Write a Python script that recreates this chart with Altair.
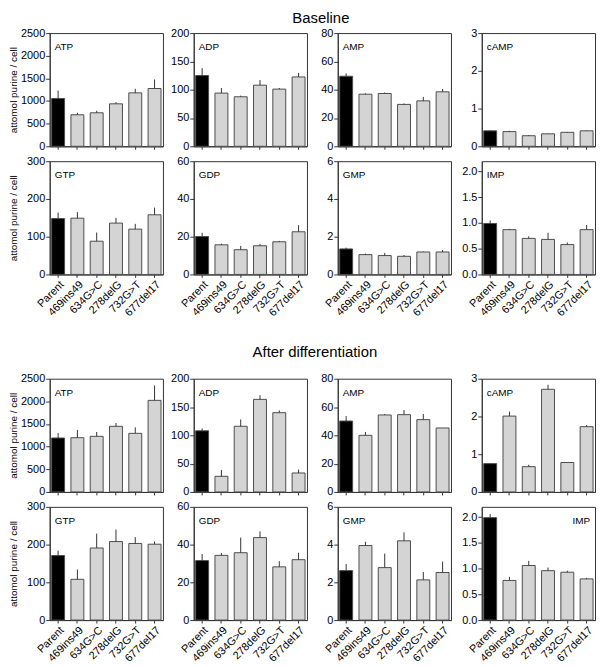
import altair as alt
import pandas as pd

FONT = "Liberation Sans"

cells = ["Parent", "469ins49", "634G>C", "278delG", "732G>T", "677del17"]
groups = ["Parent", "Mutant", "Mutant", "Mutant", "Mutant", "Mutant"]

# Baseline (mean, error)
b_ATP = [1056, 696, 740, 938, 1180, 1276]
b_ATP_err = [175, 45, 45, 37, 90, 200]
b_ADP = [125, 94, 87.5, 108, 101, 122.5]
b_ADP_err = [13, 9, 2, 9, 2, 7]
b_AMP = [49.5, 36.8, 37.3, 29.6, 32.1, 38.5]
b_AMP_err = [2, 0.6, 0.7, 0.7, 2.8, 2]
b_cAMP = [0.41, 0.39, 0.28, 0.33, 0.37, 0.41]
b_cAMP_err = [0.01, 0.02, 0.02, 0.01, 0.01, 0.01]
b_GTP = [148, 149, 88, 136, 120, 158]
b_GTP_err = [16, 16, 23, 14, 14, 19]
b_GDP = [20.1, 15.7, 13.1, 15.2, 17.3, 22.6]
b_GDP_err = [2, 0.6, 2, 1, 0.5, 3.5]
b_GMP = [1.35, 1.05, 1.0, 0.96, 1.19, 1.19]
b_GMP_err = [0.07, 0.05, 0.14, 0.07, 0.02, 0.1]
b_IMP = [0.99, 0.87, 0.70, 0.68, 0.58, 0.87]
b_IMP_err = [0.06, 0.015, 0.04, 0.13, 0.04, 0.09]

# After differentiation (mean, error)
d_ATP = [1191, 1198, 1228, 1449, 1294, 2022]
d_ATP_err = [110, 170, 96, 73, 132, 330]
d_ADP = [108, 27.6, 116, 163.5, 140, 33.5]
d_ADP_err = [4, 11, 12, 7.5, 4, 6]
d_AMP = [50.1, 40, 54.4, 54.6, 51.1, 45.2]
d_AMP_err = [3.5, 2.4, 0.7, 3.3, 4, 0]
d_cAMP = [0.75, 2.01, 0.67, 2.72, 0.78, 1.73]
d_cAMP_err = [0.01, 0.12, 0.05, 0.12, 0.0, 0.04]
d_GTP = [171, 108, 191, 208, 203, 201]
d_GTP_err = [13, 26, 38, 32, 17, 7]
d_GDP = [31.5, 34.3, 35.7, 43.7, 28.2, 32]
d_GDP_err = [3.5, 1.2, 8, 3.3, 3, 3.7]
d_GMP = [2.62, 3.95, 2.78, 4.2, 2.13, 2.52]
d_GMP_err = [0.35, 0.2, 0.74, 0.45, 0.42, 0.58]
d_IMP = [1.99, 0.77, 1.06, 0.96, 0.93, 0.80]
d_IMP_err = [0.07, 0.07, 0.09, 0.06, 0.03, 0.02]

# axis settings per metabolite: (max, ticks, format)
axes = {
    "ATP": (2500, [0, 500, 1000, 1500, 2000, 2500], "d"),
    "ADP": (200, [0, 50, 100, 150, 200], "d"),
    "AMP": (80, [0, 20, 40, 60, 80], "d"),
    "cAMP": (3, [0, 1, 2, 3], "d"),
    "GTP": (300, [0, 100, 200, 300], "d"),
    "GDP": (60, [0, 20, 40, 60], "d"),
    "GMP": (6, [0, 2, 4, 6], "d"),
    "IMP": (2.2, [0, 0.5, 1.0, 1.5, 2.0], ".1f"),
}

W = 114
H = 114


def panel(name, vals, errs, show_x_labels, first_col, label_right=False):
    ymax, ticks, fmt = axes[name]
    df = pd.DataFrame({
        "cell": cells,
        "value": vals,
        "top": [v + e for v, e in zip(vals, errs)],
        "group": groups,
    })
    xaxis = alt.Axis(title=None, labels=show_x_labels, labelAngle=-45,
                     tickSize=3, labelPadding=1)
    xscale = alt.Scale(paddingInner=0.33, paddingOuter=0.1)
    yaxis = alt.Axis(
        values=ticks, format=fmt, tickSize=4, labelPadding=1,
        labelOverlap=False, tickCount=len(ticks),
        title="attomol purine / cell" if first_col else None,
        titlePadding=0, minExtent=31, maxExtent=31,
    )
    yscale = alt.Scale(domain=[0, ymax], nice=False, zero=True)
    bars = alt.Chart(df).mark_bar(stroke="#4d4d4d", strokeWidth=1).encode(
        x=alt.X("cell:N", sort=cells, scale=xscale, axis=xaxis),
        y=alt.Y("value:Q", scale=yscale, axis=yaxis),
        color=alt.Color("group:N",
                        scale=alt.Scale(domain=["Parent", "Mutant"],
                                        range=["#000000", "#d4d4d4"]),
                        legend=None),
    )
    ebar = alt.Chart(df).mark_rule(color="#333333", strokeWidth=1).encode(
        x=alt.X("cell:N", sort=cells, scale=xscale, axis=xaxis),
        y=alt.Y("value:Q", scale=yscale, axis=yaxis),
        y2="top:Q",
    )
    lab_df = pd.DataFrame({"name": [name]})
    if label_right:
        label = alt.Chart(lab_df).mark_text(
            align="right", baseline="middle", fontSize=10, font=FONT, color="black"
        ).encode(text="name:N", x=alt.value(W - 5), y=alt.value(14))
    else:
        label = alt.Chart(lab_df).mark_text(
            align="left", baseline="middle", fontSize=10, font=FONT, color="black"
        ).encode(text="name:N", x=alt.value(5), y=alt.value(14))
    return alt.layer(bars, ebar, label).properties(width=W, height=H)


def section(title, data, offset, dx, imp_right=False):
    panels = [
        panel("ATP", data["ATP"][0], data["ATP"][1], False, True),
        panel("ADP", data["ADP"][0], data["ADP"][1], False, False),
        panel("AMP", data["AMP"][0], data["AMP"][1], False, False),
        panel("cAMP", data["cAMP"][0], data["cAMP"][1], False, False),
        panel("GTP", data["GTP"][0], data["GTP"][1], True, True),
        panel("GDP", data["GDP"][0], data["GDP"][1], True, False),
        panel("GMP", data["GMP"][0], data["GMP"][1], True, False),
        panel("IMP", data["IMP"][0], data["IMP"][1], True, False, label_right=imp_right),
    ]
    return alt.concat(
        *panels, columns=4, spacing={"row": 15, "column": 31}, bounds="flush"
    ).properties(
        title=alt.TitleParams(title, fontSize=15, fontWeight="normal", font=FONT,
                              anchor="middle", offset=offset, color="black", dx=dx)
    )


base = {
    "ATP": (b_ATP, b_ATP_err), "ADP": (b_ADP, b_ADP_err),
    "AMP": (b_AMP, b_AMP_err), "cAMP": (b_cAMP, b_cAMP_err),
    "GTP": (b_GTP, b_GTP_err), "GDP": (b_GDP, b_GDP_err),
    "GMP": (b_GMP, b_GMP_err), "IMP": (b_IMP, b_IMP_err),
}
diff = {
    "ATP": (d_ATP, d_ATP_err), "ADP": (d_ADP, d_ADP_err),
    "AMP": (d_AMP, d_AMP_err), "cAMP": (d_cAMP, d_cAMP_err),
    "GTP": (d_GTP, d_GTP_err), "GDP": (d_GDP, d_GDP_err),
    "GMP": (d_GMP, d_GMP_err), "IMP": (d_IMP, d_IMP_err),
}

chart = alt.vconcat(
    section("Baseline", base, 1, 19),
    section("After differentiation", diff, 12, 13, imp_right=True),
    spacing=26,
).properties(
    padding={"left": 0, "top": 0, "right": 0, "bottom": 0}
).configure_view(
    stroke="#333333", strokeWidth=1
).configure_axis(
    labelFont=FONT, titleFont=FONT, labelFontSize=11, titleFontSize=10,
    titleFontWeight="normal", labelColor="black", titleColor="black",
    tickColor="#333333", domainColor="#333333", grid=False,
)

chart.save("out.html", embed_options={"renderer": "svg", "actions": False})
